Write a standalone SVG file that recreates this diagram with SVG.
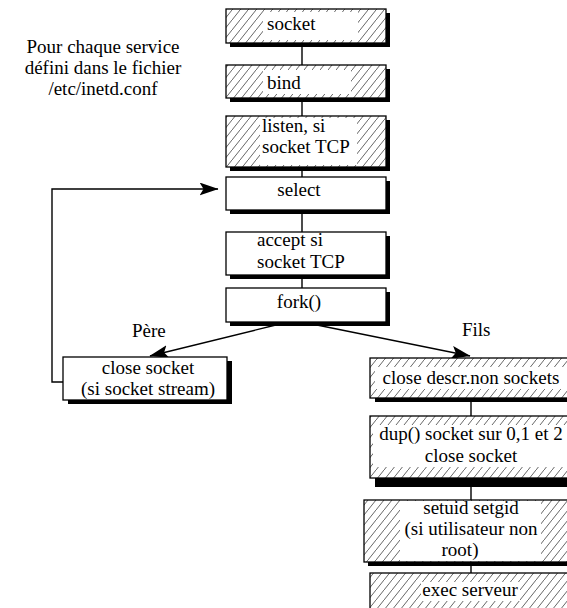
<svg xmlns="http://www.w3.org/2000/svg" width="567" height="608" viewBox="0 0 567 608" font-family="'Liberation Serif','Times New Roman',serif">
<style>
text{font-family:"Liberation Serif","Times New Roman",serif;font-size:19px;fill:#000}
.box{stroke:#000;stroke-width:1.3}
.h{fill:url(#hatch)}
.w{fill:#fff}
.sh{fill:#000}
.tw{fill:#fff;stroke:none}
.c{stroke:#000;stroke-width:1.4;fill:none}
.m{text-anchor:middle}
</style>
<defs>
<pattern id="hatch" patternUnits="userSpaceOnUse" width="8" height="10">
<rect width="8" height="10" fill="#fff"/>
<path d="M-1,11.25 L9,-1.25" stroke="#333" stroke-width="0.75"/>
</pattern>
<marker id="ah" markerUnits="userSpaceOnUse" markerWidth="19" markerHeight="13" viewBox="0 0 19 13" refX="18.5" refY="6.5" orient="auto">
<path d="M0,0 L19,6.5 L0,13 L4,6.5 Z" fill="#000"/>
</marker>
</defs>

<rect width="567" height="608" fill="#fff"/>

<text id="note" class="m"><tspan x="103" y="52.8">Pour chaque service</tspan><tspan x="103" y="74">défini dans le fichier</tspan><tspan x="103" y="95.2">/etc/inetd.conf</tspan></text>

<g id="connectors">
<path class="c" d="M302,47 V65 M302,102 V116 M302,171 V177 M302,214 V232 M302,279 V288"/>
<path class="c" d="M471,402 V416 M471,487 V500 M471,566 V573"/>
<path class="c" d="M64,382 H52 V189 H218" marker-end="url(#ah)"/>
<path class="c" d="M280,324 L150,356" marker-end="url(#ah)"/>
<path class="c" d="M312,324 L470,356" marker-end="url(#ah)"/>
<text x="132" y="337">Père</text>
<text x="462" y="336">Fils</text>
</g>

<g id="n-socket">
<rect class="sh" x="230" y="13" width="160" height="34"/>
<rect class="box h" x="226" y="9" width="160" height="34"/>
<rect class="tw" x="263" y="12" width="95" height="28"/>
<text x="267" y="30">socket</text>
</g>

<g id="n-bind">
<rect class="sh" x="230" y="69" width="160" height="33"/>
<rect class="box h" x="226" y="65" width="160" height="33"/>
<rect class="tw" x="263" y="70" width="88" height="24"/>
<text x="267" y="89">bind</text>
</g>

<g id="n-listen">
<rect class="sh" x="230" y="120" width="160" height="51"/>
<rect class="box h" x="226" y="116" width="160" height="51"/>
<rect class="tw" x="260" y="118" width="97" height="47"/>
<text><tspan x="262" y="131.9">listen, si</tspan><tspan x="262" y="153.1">socket TCP</tspan></text>
</g>

<g id="n-select">
<rect class="sh" x="230" y="181" width="160" height="33"/>
<rect class="box w" x="226" y="177" width="160" height="33"/>
<text x="299" y="196" class="m">select</text>
</g>

<g id="n-accept">
<rect class="sh" x="230" y="236" width="160" height="43"/>
<rect class="box w" x="226" y="232" width="160" height="43"/>
<text><tspan x="257" y="246.4">accept si</tspan><tspan x="257" y="267.6">socket TCP</tspan></text>
</g>

<g id="n-fork">
<rect class="sh" x="230" y="292" width="160" height="34"/>
<rect class="box w" x="226" y="288" width="160" height="34"/>
<text x="299" y="308" class="m">fork()</text>
</g>

<g id="n-close-socket">
<rect class="sh" x="68" y="361" width="164" height="43"/>
<rect class="box w" x="63" y="357" width="164" height="43"/>
<text class="m"><tspan x="148" y="373.9">close socket</tspan><tspan x="148" y="395.1">(si socket stream)</tspan></text>
</g>

<g id="n-close-descr">
<rect class="sh" x="375" y="362" width="202" height="40"/>
<rect class="box h" x="370" y="358" width="202" height="40"/>
<rect class="tw" x="375" y="367" width="197" height="22"/>
<text x="471" y="384" class="m">close descr.non sockets</text>
</g>

<g id="n-dup">
<rect class="sh" x="375" y="421" width="202" height="66"/>
<rect class="box h" x="370" y="416" width="202" height="62"/>
<rect class="tw" x="373" y="425" width="199" height="42"/>
<text class="m"><tspan x="471" y="440.4">dup() socket sur 0,1 et 2</tspan><tspan x="471" y="461.6">close socket</tspan></text>
</g>

<g id="n-setuid">
<rect class="sh" x="368" y="504" width="214" height="62"/>
<rect class="box h" x="364" y="500" width="214" height="62"/>
<rect class="tw" x="400" y="501" width="141" height="60"/>
<text class="m"><tspan x="471" y="513.8">setuid setgid</tspan><tspan x="471" y="535">(si utilisateur non</tspan><tspan x="460" y="556.2">root)</tspan></text>
</g>

<g id="n-exec">
<rect class="sh" x="374" y="577" width="202" height="40"/>
<rect class="box h" x="370" y="573" width="202" height="40"/>
<rect class="tw" x="421" y="582" width="99" height="19"/>
<text x="470" y="596" class="m">exec serveur</text>
</g>
</svg>
